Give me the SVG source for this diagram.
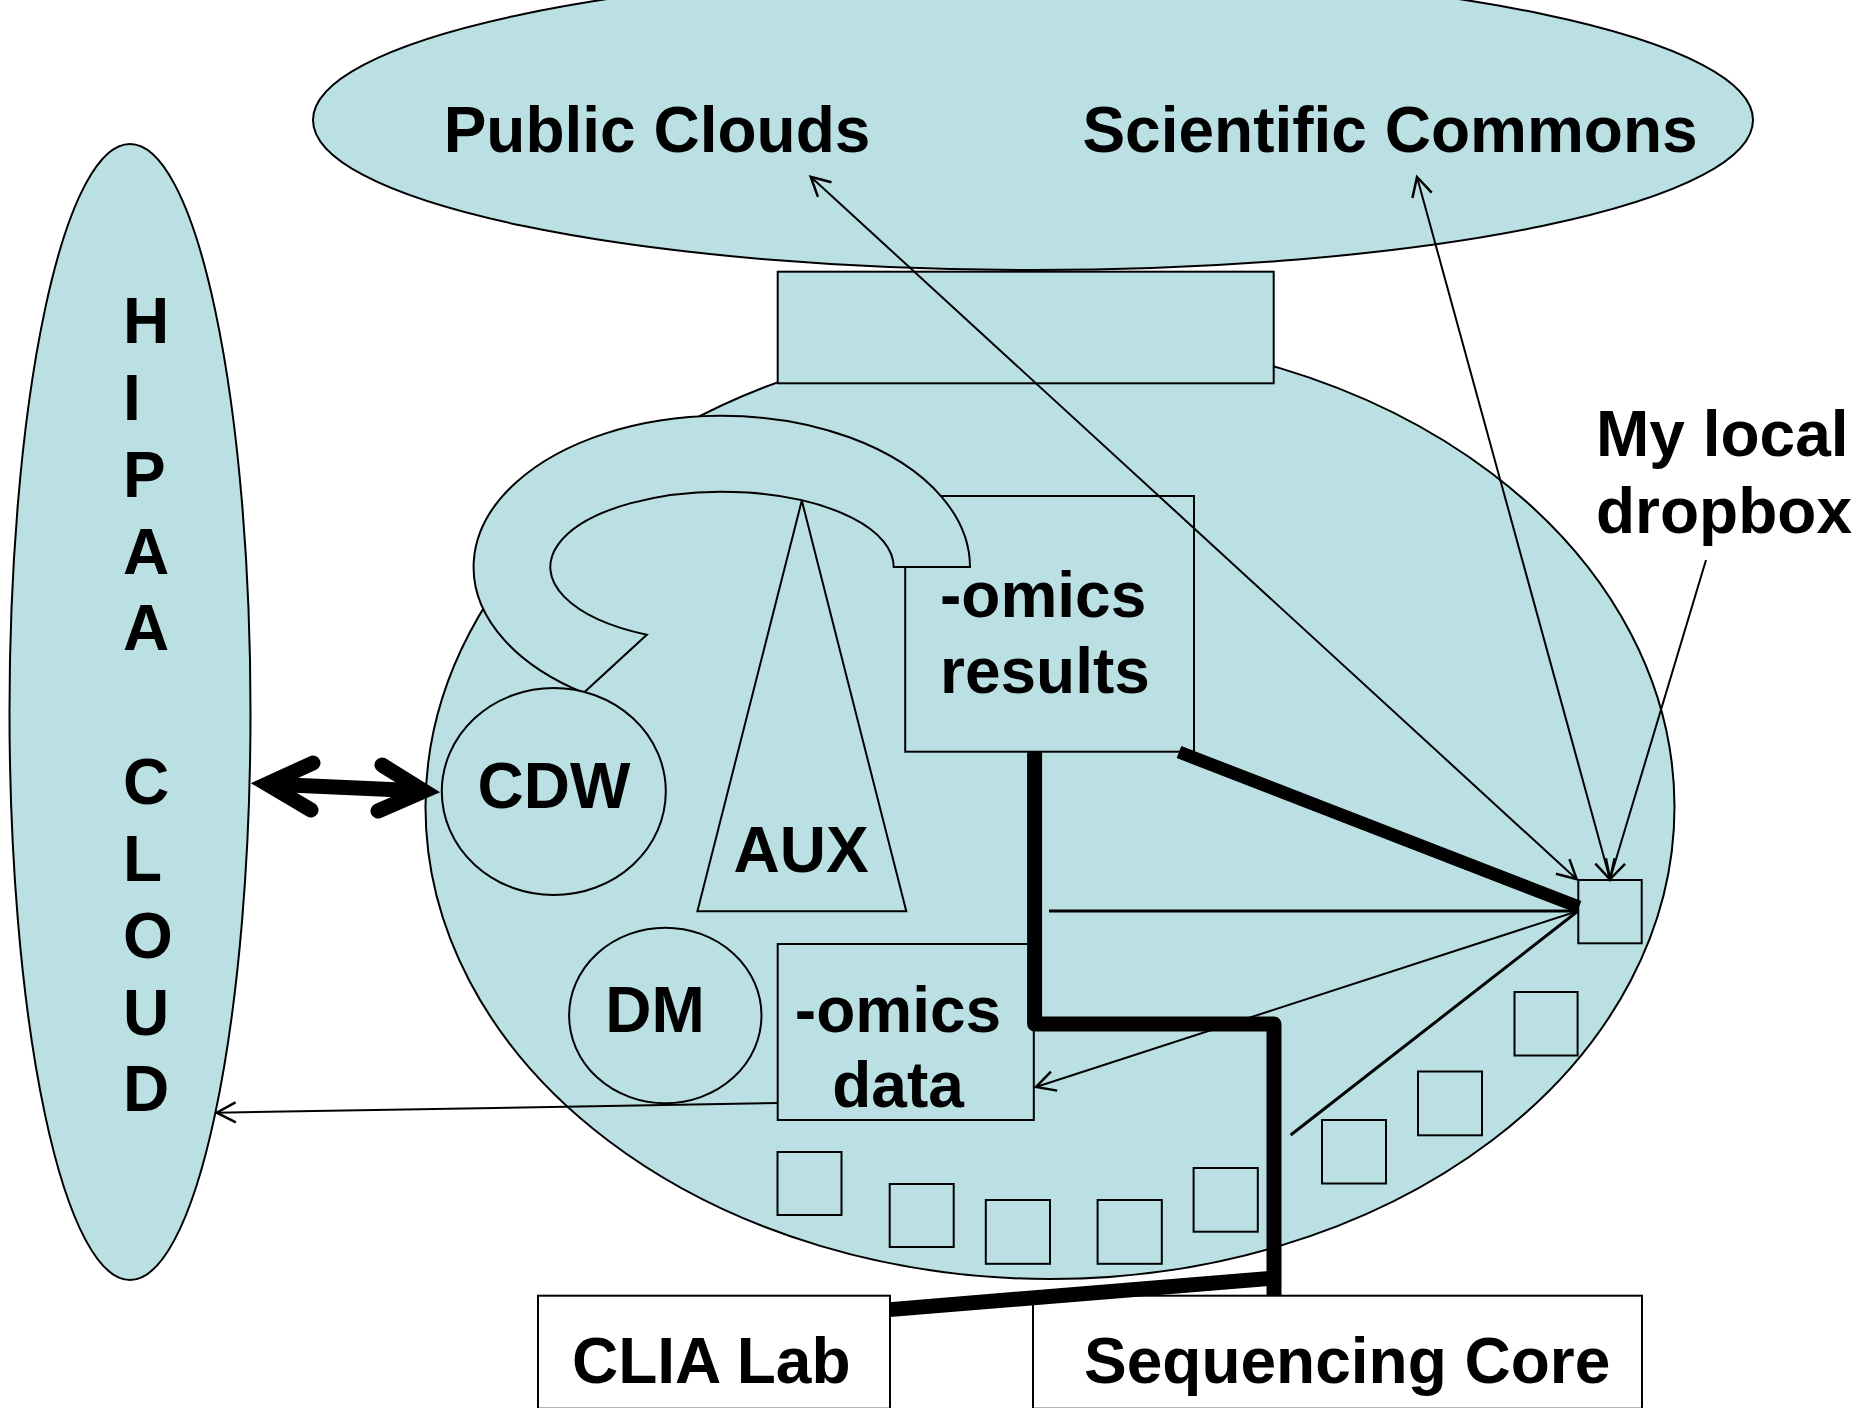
<svg xmlns="http://www.w3.org/2000/svg" width="1860" height="1408" viewBox="0 0 1860 1408">
<style>
.sh{fill:#BAE0E3;stroke:#000;stroke-width:2}
.wb{fill:#fff;stroke:#000;stroke-width:2}
.t{font-family:"Liberation Sans",Arial,Helvetica,sans-serif;font-weight:bold;font-size:64px;fill:#000}
.m{text-anchor:middle}
.thin{fill:none;stroke:#000;stroke-width:2}
.med{fill:none;stroke:#000;stroke-width:3}
.thick{fill:none;stroke:#000;stroke-width:15}
.head{fill:none;stroke:#000;stroke-width:15;stroke-linecap:round;stroke-linejoin:miter}
</style>
<defs>
<marker id="ah" markerUnits="userSpaceOnUse" markerWidth="40" markerHeight="40" viewBox="-30 -20 40 40" refX="0" refY="0" orient="auto-start-reverse">
<path d="M-19,-10 L0,0 L-19,10" fill="none" stroke="#000" stroke-width="2.5"/>
</marker>
</defs>
<rect width="1860" height="1408" fill="#fff"/>
<g id="public-ellipse">
<ellipse class="sh" cx="1033" cy="120" rx="720" ry="150"/>
<text class="t m" x="657" y="152">Public Clouds</text>
<text class="t m" x="1390" y="152">Scientific Commons</text>
</g>
<g id="hipaa-cloud">
<ellipse class="sh" cx="130" cy="712" rx="120.5" ry="568"/>
<text class="t" x="123" y="343">H</text>
<text class="t" x="123" y="420">I</text>
<text class="t" x="123" y="497">P</text>
<text class="t" x="123" y="574">A</text>
<text class="t" x="123" y="650">A</text>
<text class="t" x="123" y="804">C</text>
<text class="t" x="123" y="881">L</text>
<text class="t" x="123" y="958">O</text>
<text class="t" x="123" y="1035">U</text>
<text class="t" x="123" y="1111">D</text>
</g>
<g id="main-ellipse">
<ellipse class="sh" cx="1050" cy="807" rx="624.5" ry="472"/>
</g>
<g id="top-box">
<rect class="sh" x="777.7" y="271.7" width="496" height="111.6"/>
</g>
<g id="omics-results">
<rect class="sh" x="905.2" y="496" width="288.8" height="255.7"/>
<text class="t" x="940" y="617">-omics</text>
<text class="t" x="940" y="693">results</text>
</g>
<g id="hook">
<path class="sh" d="M970,567 A248.2,151.3 0 1 0 583.7,692.8 L646.8,634.7 A171.7,75.3 0 1 1 893.7,567 Z"/>
</g>
<g id="cdw">
<ellipse class="sh" cx="553.8" cy="791.5" rx="112" ry="103.5"/>
<text class="t m" x="554" y="808">CDW</text>
</g>
<g id="aux">
<path class="sh" d="M801.8,500.5 L906.3,911.3 L697.4,911.3 Z"/>
<text class="t m" x="801" y="872">AUX</text>
</g>
<g id="dm">
<ellipse class="sh" cx="665.3" cy="1015.5" rx="96.2" ry="87.8"/>
<text class="t m" x="655" y="1032">DM</text>
</g>
<g id="omics-data">
<rect class="sh" x="777.7" y="944" width="256.1" height="176"/>
<text class="t m" x="898" y="1032">-omics</text>
<text class="t m" x="898" y="1107">data</text>
</g>
<g id="dropbox">
<rect class="sh" x="1578.3" y="880" width="63.4" height="63.3"/>
<text class="t" x="1596" y="456">My local</text>
<text class="t" x="1596" y="533">dropbox</text>
</g>
<g id="small-boxes">
<rect class="sh" x="1514.5" y="992" width="63.1" height="63.5"/>
<rect class="sh" x="1418" y="1071.5" width="64" height="63.8"/>
<rect class="sh" x="1322" y="1120" width="64" height="63.5"/>
<rect class="sh" x="1193.6" y="1168" width="64.2" height="63.7"/>
<rect class="sh" x="1097.6" y="1200" width="64.2" height="63.8"/>
<rect class="sh" x="985.8" y="1200" width="64.2" height="63.8"/>
<rect class="sh" x="889.7" y="1184" width="64" height="63"/>
<rect class="sh" x="777.5" y="1152" width="64" height="63"/>
</g>
<g id="clia-lab">
<rect class="wb" x="538" y="1295.7" width="352" height="113"/>
<text class="t" x="572" y="1383">CLIA Lab</text>
</g>
<g id="sequencing-core">
<rect class="wb" x="1033" y="1295.7" width="609" height="113"/>
<text class="t" x="1084" y="1383">Sequencing Core</text>
</g>
<g id="connectors">
<polyline class="head" points="313,763 267,784 311,810"/>
<line x1="267" y1="784" x2="424" y2="791" stroke="#000" stroke-width="15"/>
<polyline class="head" points="382,765 424,791 378,811"/>
<polyline class="thick" points="1034.6,751.7 1034.6,1024 1274,1024 1274,1295.7" stroke-linejoin="round"/>
<line x1="889.6" y1="1309.6" x2="1274" y2="1278" stroke="#000" stroke-width="15"/>
<line x1="1179" y1="752" x2="1579" y2="907" stroke="#000" stroke-width="13"/>
<line class="med" x1="1049" y1="911" x2="1578" y2="911"/>
<line class="med" x1="1290.7" y1="1135" x2="1578" y2="911"/>
<line class="thin" x1="1578" y1="911" x2="1036" y2="1087" marker-end="url(#ah)"/>
<line class="thin" x1="777.7" y1="1103" x2="216.7" y2="1112.7" marker-end="url(#ah)"/>
<line class="thin" x1="810.7" y1="176.7" x2="1576.7" y2="879.3" marker-start="url(#ah)" marker-end="url(#ah)"/>
<line class="thin" x1="1417" y1="177" x2="1610" y2="879.3" marker-start="url(#ah)" marker-end="url(#ah)"/>
<line class="thin" x1="1706" y1="560" x2="1610" y2="879.3" marker-end="url(#ah)"/>
</g>
</svg>
